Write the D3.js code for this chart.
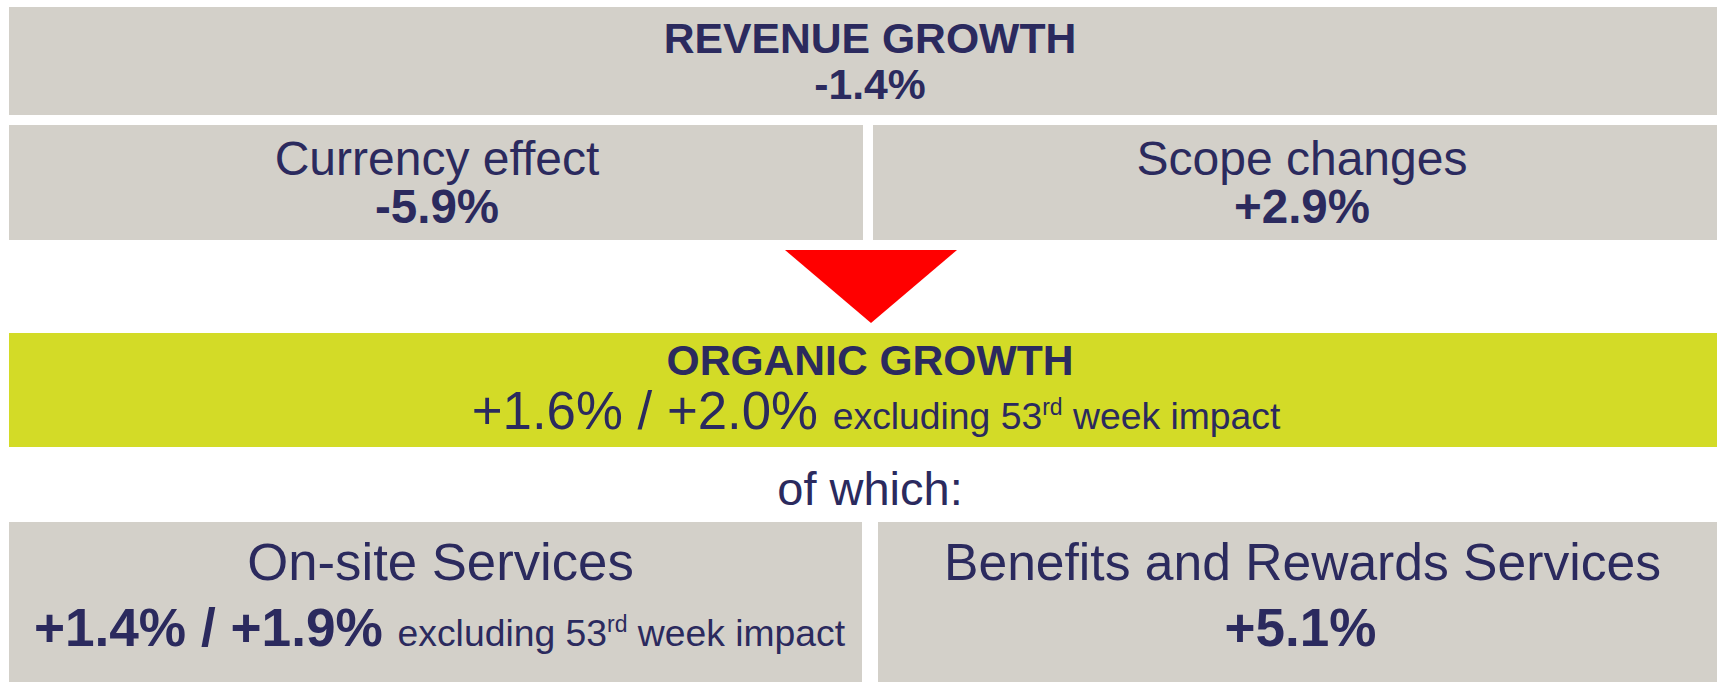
<!DOCTYPE html>
<html>
<head>
<meta charset="utf-8">
<script src="https://cdn.jsdelivr.net/npm/d3@7"></script>
<style>
  body { margin: 0; background: #fff; }
  svg { display: block; }
  text { font-family: "Liberation Sans", Arial, sans-serif; fill: #2b2a5e; }
</style>
</head>
<body>
<div id="chart"></div>
<script>
// data
const revenueLabel = "REVENUE GROWTH";
const revenueGrowth = -1.4;
const effectLabels = ["Currency effect", "Scope changes"];
const effectValues = [-5.9, 2.9];
const organicLabel = "ORGANIC GROWTH";
const organicValues = [1.6, 2.0];          // reported / excl. 53rd week
const segmentLabels = ["On-site Services", "Benefits and Rewards Services"];
const segmentValues = [[1.4, 1.9], [5.1]];
const noteText = ["excluding 53", "rd", " week impact"];
const ofWhich = "of which:";

const width = 1719, height = 682;
const gray = "#d3d0c9", green = "#d3db27";

// plain hyphen for negatives, like the slide
const locale = d3.formatLocale({ decimal: ".", thousands: ",", grouping: [3], currency: ["", ""], minus: "-" });
const pct = v => locale.format("+.1f")(v) + "%";
const pctPair = vs => vs.map(pct).join(" / ");

const svg = d3.select("#chart").append("svg")
    .attr("width", width)
    .attr("height", height);

// horizontal scale: 0..1 across the slide body
const x = d3.scaleLinear().domain([0, 1]).range([9, 1717]);
const mid = x(0.5) + 7;   // visual centre line used by the slide

/*************/
/* top block */
/*************/
svg.append("rect")
    .attr("x", x(0)).attr("y", 7)
    .attr("width", x(1) - x(0)).attr("height", 108)
    .attr("fill", gray);

const revText = svg.append("text")
    .attr("text-anchor", "middle")
    .style("font-weight", "bold").style("font-size", "42.7px");
revText.append("tspan").attr("x", mid).attr("y", 53).text(revenueLabel);
revText.append("tspan").attr("x", mid).attr("y", 99).text(pct(revenueGrowth));

/******************************/
/* currency / scope effects   */
/******************************/
const effX = [[x(0), 863], [873, x(1)]];

const eff = svg.selectAll(".effect")
    .data(effectLabels.map((l, i) => ({ label: l, value: effectValues[i], i })))
    .join("g")
    .attr("class", "effect");

eff.append("rect")
    .attr("x", d => effX[d.i][0])
    .attr("y", 125)
    .attr("width", d => effX[d.i][1] - effX[d.i][0])
    .attr("height", 115)
    .attr("fill", gray);

const effCx = d => (effX[d.i][0] + effX[d.i][1]) / 2 + (d.i ? 7 : 1);

eff.append("text")
    .attr("x", effCx)
    .attr("y", 175)
    .attr("text-anchor", "middle")
    .style("font-size", "48px")
    .text(d => d.label);

eff.append("text")
    .attr("x", effCx)
    .attr("y", 223)
    .attr("text-anchor", "middle")
    .style("font-size", "47.5px").style("font-weight", "bold")
    .text(d => pct(d.value));

// red arrow pointing down
const ax = x(0.5) + 8;
svg.append("path")
    .attr("d", d3.line()([[ax - 86, 250], [ax + 86, 250], [ax, 323]]) + "Z")
    .attr("fill", "#ff0000");

/*****************/
/* organic block */
/*****************/
svg.append("rect")
    .attr("x", x(0)).attr("y", 333)
    .attr("width", x(1) - x(0)).attr("height", 114)
    .attr("fill", green);

svg.append("text")
    .attr("x", mid).attr("y", 375)
    .attr("text-anchor", "middle")
    .style("font-weight", "bold").style("font-size", "42.6px")
    .text(organicLabel);

// value line with small note and superscript
function valueLine(sel, cx, cy, values, bigSize, bold) {
    const t = sel.append("text")
        .attr("x", cx).attr("y", cy)
        .attr("text-anchor", "middle");
    t.append("tspan")
        .style("font-size", bigSize + "px")
        .style("font-weight", bold ? "bold" : "normal")
        .text(pctPair(values) + " ");
    t.append("tspan").style("font-size", "37.3px").text(noteText[0]);
    t.append("tspan").style("font-size", "23px").attr("dy", -14).text(noteText[1]);
    t.append("tspan").style("font-size", "37.3px").attr("dy", 14).text(noteText[2]);
    return t;
}

valueLine(svg, x(0.5) + 13, 429, organicValues, 52.8, false);

svg.append("text")
    .attr("x", mid).attr("y", 505)
    .attr("text-anchor", "middle")
    .style("font-size", "47px")
    .text(ofWhich);

/*******************/
/* segment blocks  */
/*******************/
const segX = [[x(0), 862], [878, x(1)]];

const seg = svg.selectAll(".segment")
    .data(segmentLabels.map((l, i) => ({ label: l, values: segmentValues[i], i })))
    .join("g")
    .attr("class", "segment");

seg.append("rect")
    .attr("x", d => segX[d.i][0])
    .attr("y", 522)
    .attr("width", d => segX[d.i][1] - segX[d.i][0])
    .attr("height", height - 522)
    .attr("fill", gray);

const segCx = d => (segX[d.i][0] + segX[d.i][1]) / 2 + 5;

seg.append("text")
    .attr("x", segCx)
    .attr("y", 580)
    .attr("text-anchor", "middle")
    .style("font-size", d => d.i ? "51.6px" : "52.7px")
    .text(d => d.label);

seg.each(function(d) {
    const cx = segCx(d);
    if (d.values.length > 1) {
        valueLine(d3.select(this), cx - 1, 646, d.values, 53.2, true);
    } else {
        d3.select(this).append("text")
            .attr("x", cx - 2).attr("y", 646)
            .attr("text-anchor", "middle")
            .style("font-size", "53px").style("font-weight", "bold")
            .text(pct(d.values[0]));
    }
});
</script>
</body>
</html>
